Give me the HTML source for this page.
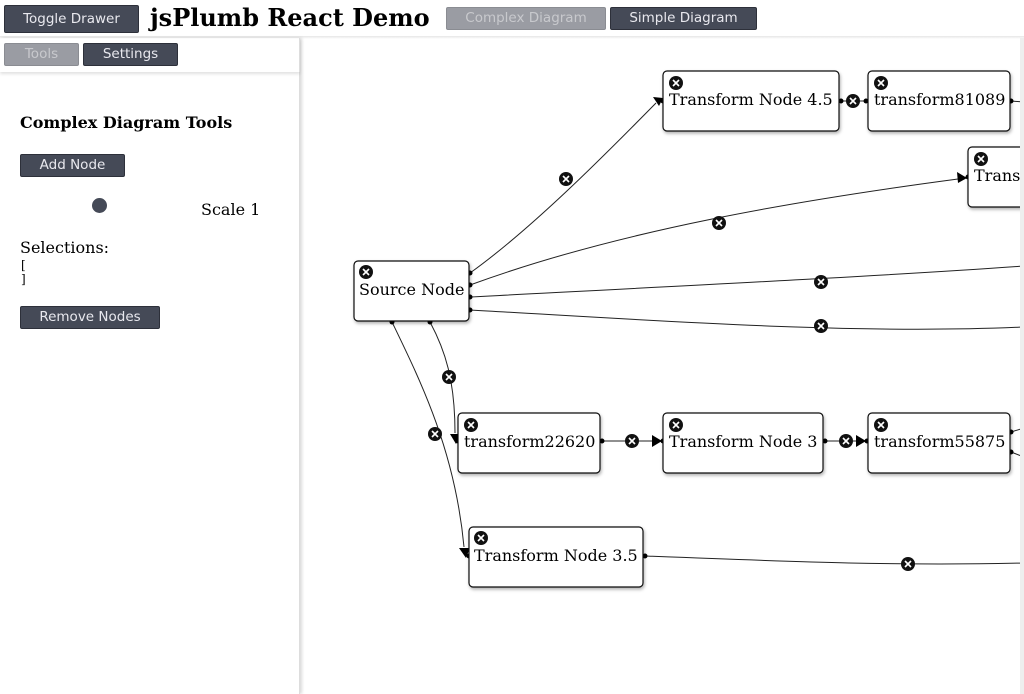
<!DOCTYPE html>
<html><head><meta charset="utf-8"><style>
*{box-sizing:border-box;margin:0;padding:0}
body{width:1024px;height:694px;overflow:hidden;background:#fff;position:relative;font-family:"DejaVu Serif","Liberation Serif",serif}
.btn{position:absolute;background:#454a57;color:#e8e8ee;border:1px solid #2d303a;border-radius:2px;font-family:"DejaVu Sans","Liberation Sans",sans-serif;font-size:13.5px;text-align:center;line-height:22px;height:24px}
.dis{background:#9a9ca3;color:#c8c9cd;border-color:#8a8c92}
.side{position:absolute;left:0;top:38px;width:300px;height:656px;border-right:1px solid #ddd;box-shadow:2px 0 3px rgba(0,0,0,.15)}
.txt{position:absolute;color:#000}
</style></head><body>
<div class="btn" style="left:4px;top:5px;width:135px;height:28px;line-height:26px">Toggle Drawer</div>
<div class="txt" style="left:150px;top:3px;font-size:24px;font-weight:bold">jsPlumb React Demo</div>
<div class="btn dis" style="left:446px;top:7px;width:160px;height:23px;line-height:21px">Complex Diagram</div>
<div class="btn" style="left:610px;top:7px;width:147px;height:23px;line-height:21px">Simple Diagram</div>
<div style="position:absolute;left:0;top:36px;width:1024px;height:3px;background:linear-gradient(#e6e6e6,#fff)"></div>
<div class="side">
<div style="position:absolute;left:0;top:0;width:300px;height:34px;box-shadow:0 2px 3px rgba(0,0,0,.12)"></div>
</div>
<div class="btn dis" style="left:4px;top:43px;width:75px;height:23px;line-height:21px">Tools</div>
<div class="btn" style="left:83px;top:43px;width:95px;height:23px;line-height:21px">Settings</div>
<div class="txt" style="left:20px;top:113px;font-size:16px;font-weight:bold">Complex Diagram Tools</div>
<div class="btn" style="left:20px;top:154px;width:105px;height:23px;line-height:21px">Add Node</div>
<div style="position:absolute;left:92px;top:198px;width:15px;height:15px;border-radius:50%;background:#454a57"></div>
<div class="txt" style="left:201px;top:200px;font-size:16px">Scale 1</div>
<div class="txt" style="left:20px;top:238px;font-size:16px">Selections:</div>
<div class="txt" style="left:21px;top:258px;font-size:12px;line-height:14px">[<br>]</div>
<div class="btn" style="left:20px;top:306px;width:140px;height:23px;line-height:21px">Remove Nodes</div>
<svg width="1024" height="694" style="position:absolute;left:0;top:0" font-family="DejaVu Serif, Liberation Serif, serif">
<defs>
<g id="m"><circle r="7" fill="#111"/><path d="M-3,-3L3,3M3,-3L-3,3" stroke="#fff" stroke-width="1.6"/></g>
<filter id="sh"><feDropShadow dx="1" dy="2" stdDeviation="1.5" flood-opacity=".3"/></filter>
</defs>
<g fill="none" stroke="#222" stroke-width="1">
<path d="M470,273 C530,230 600,160 656,103"/>
<path d="M470,285 C620,230 800,200 958,179"/>
<path d="M470,297 C700,285 900,275 1024,266"/>
<path d="M470,310 C650,320 850,335 1024,327"/>
<path d="M430,322 C445,350 455,380 455,433"/>
<path d="M392,322 C420,380 455,450 464,547"/>
<path d="M602,441 L655,441"/><path d="M825,441 L860,441"/><path d="M841,101 L866,101"/>
<path d="M1011,101 L1024,102"/><path d="M1011,432 L1024,428"/><path d="M1011,452 L1024,457"/>
<path d="M645,556 C800,562 900,566 1024,563"/>
</g>
<g fill="#000">
<path d="M663,98 l-10,-1 6,9z"/>
<path d="M967,178 l-10,-6 1,11z"/>
<path d="M456,444 l-6,-10 11,0z"/>
<path d="M466,558 l-7,-10 11,0z"/>
<path d="M662,441 l-10,-6 0,12z"/>
<path d="M866,441 l-10,-6 0,12z"/>
<circle cx="470" cy="273" r="2.5"/><circle cx="470" cy="285" r="2.5"/><circle cx="470" cy="297" r="2.5"/><circle cx="470" cy="310" r="2.5"/>
<circle cx="392" cy="322" r="2.5"/><circle cx="430" cy="322" r="2.5"/>
<circle cx="602" cy="441" r="2.5"/><circle cx="825" cy="441" r="2.5"/><circle cx="841" cy="101" r="2.5"/><circle cx="866" cy="101" r="2.5"/>
<circle cx="1011" cy="101" r="2.5"/><circle cx="1011" cy="432" r="2.5"/><circle cx="1011" cy="452" r="2.5"/><circle cx="645" cy="556" r="2.5"/>
<circle cx="663" cy="441" r="2.5"/><circle cx="867" cy="441" r="2.5"/><circle cx="663" cy="101" r="2.5"/><circle cx="968" cy="177" r="2.5"/><circle cx="458" cy="441" r="2.5"/><circle cx="469" cy="556" r="2.5"/>
</g>
<use href="#m" x="566" y="179"/><use href="#m" x="719" y="223"/><use href="#m" x="821" y="282"/><use href="#m" x="821" y="326"/>
<use href="#m" x="449" y="377"/><use href="#m" x="435" y="434"/><use href="#m" x="632" y="441"/><use href="#m" x="846" y="441"/>
<use href="#m" x="853" y="101"/><use href="#m" x="908" y="564"/>
<g fill="#fff" stroke="#111" stroke-width="1.2" filter="url(#sh)">
<rect x="354" y="261" width="115" height="60" rx="4"/>
<rect x="663" y="71" width="176" height="60" rx="4"/>
<rect x="868" y="71" width="142" height="60" rx="4"/>
<rect x="968" y="147" width="70" height="60" rx="4"/>
<rect x="458" y="413" width="142" height="60" rx="4"/>
<rect x="663" y="413" width="160" height="60" rx="4"/>
<rect x="868" y="413" width="142" height="60" rx="4"/>
<rect x="469" y="527" width="174" height="60" rx="4"/>
</g>
<use href="#m" x="366" y="272"/><use href="#m" x="676" y="83"/><use href="#m" x="881" y="83"/><use href="#m" x="981" y="159"/>
<use href="#m" x="471" y="425"/><use href="#m" x="676" y="425"/><use href="#m" x="881" y="425"/><use href="#m" x="481" y="538"/>
<g font-size="16" fill="#000">
<text x="359" y="295">Source Node</text>
<text x="669" y="105">Transform Node 4.5</text>
<text x="874" y="105">transform81089</text>
<text x="974" y="181">Transform</text>
<text x="464" y="447">transform22620</text>
<text x="669" y="447">Transform Node 3</text>
<text x="874" y="447">transform55875</text>
<text x="474" y="561">Transform Node 3.5</text>
</g>
</svg>
<div style="position:absolute;left:1020px;top:38px;width:4px;height:656px;background:#eee"></div>
</body></html>
